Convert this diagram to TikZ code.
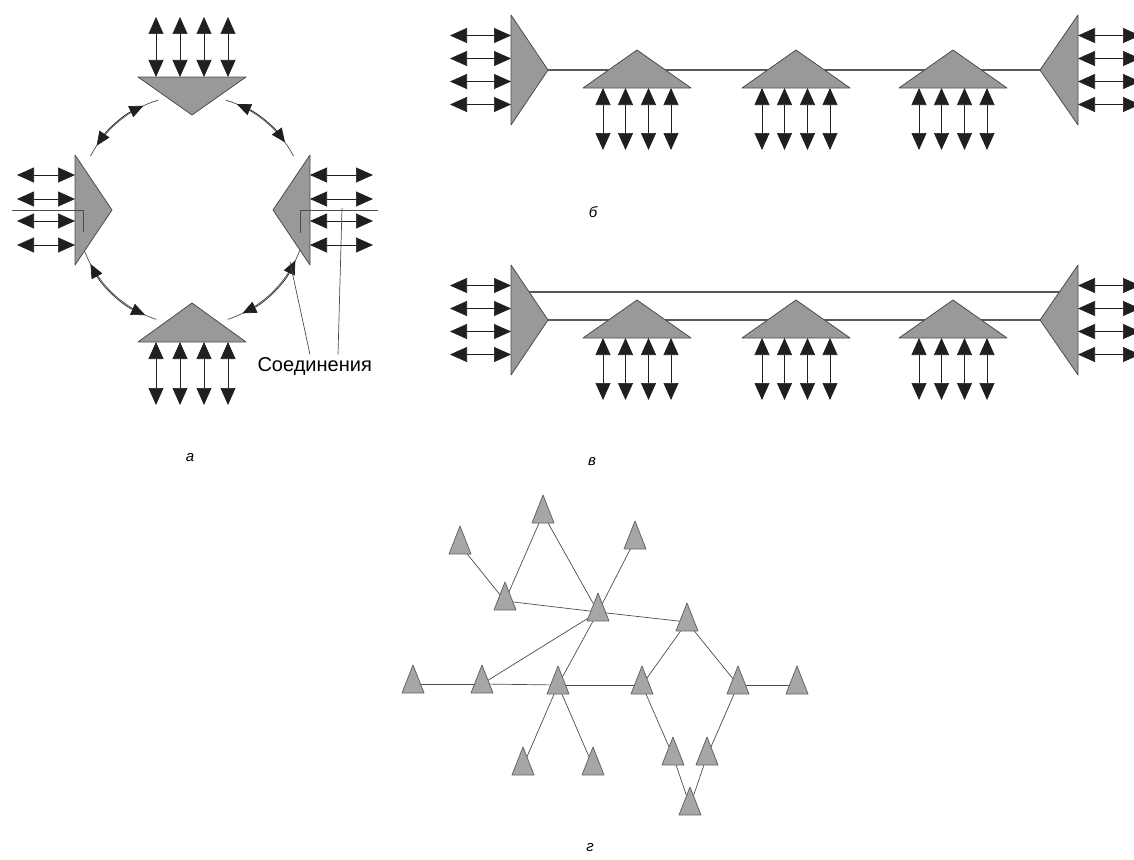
\documentclass[tikz,border=0pt]{standalone}
\usepackage{fontspec}
\setmainfont{Liberation Sans}
\usetikzlibrary{arrows.meta}

\tikzset{
  bigtri/.style={draw=black!70, fill=black!40, line width=0.8pt, line join=round},
  smalltri/.style={draw=black!60, fill=black!35, line width=0.8pt, line join=round},
  port/.style={{Triangle[length=17pt,width=15pt]}-{Triangle[length=17pt,width=15pt]}, line width=0.7pt, black!88},
  ringarrow/.style={{Triangle[length=14pt,width=12pt]}-{Triangle[length=14pt,width=12pt]}, line width=0.7pt, black!88},
  ring/.style={black!70, line width=0.7pt},
  bus/.style={black!65, line width=1.1pt},
  edge/.style={black!70, line width=0.7pt},
  caption/.style={font=\itshape\fontsize{15}{15}\selectfont},
}

\begin{document}
\begin{tikzpicture}[x=1pt,y=-1pt]
  \useasboundingbox (0,0) rectangle (1134,859);

  % ring
  \coordinate (c) at (192,210);
  \foreach \a/\b in {208/253, 287/332, 20/72, 108/160} {
    \draw[ring] (c) ++(\a:115) arc[start angle=\a, end angle=\b, radius=115];
    \draw[ringarrow] (c) ++(\a+6:115) arc[start angle=\a+6, end angle=\b-8, radius=115];
  }

  \coordinate (t1) at (138,77);
  \coordinate (t2) at (246,77);
  \coordinate (t3) at (192,115);
  \coordinate (b1) at (138,342);
  \coordinate (b2) at (246,342);
  \coordinate (b3) at (192,303);
  \coordinate (l1) at (75,155);
  \coordinate (l2) at (75,265);
  \coordinate (l3) at (112,210);
  \coordinate (r1) at (310,155);
  \coordinate (r2) at (310,265);
  \coordinate (r3) at (273,210);
  \filldraw[bigtri] (t1) -- (t2) -- (t3) -- cycle;
  \filldraw[bigtri] (b1) -- (b2) -- (b3) -- cycle;
  \filldraw[bigtri] (l1) -- (l2) -- (l3) -- cycle;
  \filldraw[bigtri] (r1) -- (r2) -- (r3) -- cycle;

  \foreach \d in {-36,-12,12,36} {
    \draw[port] (192+\d,17) -- (192+\d,77);
    \draw[port] (192+\d,342) -- (192+\d,405);
  }
  \foreach \d in {-35,-11,11,35} {
    \draw[port] (17,210+\d) -- (75,210+\d);
    \draw[port] (310,210+\d) -- (373,210+\d);
  }

  % connections
  \coordinate (cl) at (83,232);
  \coordinate (cr) at (300,233);
  \draw[ring] (12,210) -- (83,210) -- (cl);
  \draw[ring] (378,210) -- (300,210) -- (cr);
  \node[anchor=west, font=\fontsize{20}{20}\selectfont] (conn) at (254,367) {Соединения};
  \coordinate (p1) at (290,262);
  \coordinate (p2) at (342,208);
  \draw[ring] (conn.north -| 310,0) -- (p1);
  \draw[ring] (conn.north -| 338,0) -- (p2);

  % buses
  \coordinate (top1) at (511,292);
  \coordinate (top2) at (1078,292);
  \draw[bus] (top1) -- (top2);
  \foreach \y in {0,250} {
    \coordinate (bl\y) at (548,70+\y);
    \coordinate (br\y) at (1040,70+\y);
    \draw[bus] (bl\y) -- (br\y);
    \filldraw[bigtri] (511,15+\y) -- (bl\y) -- (511,125+\y) -- cycle;
    \filldraw[bigtri] (1078,15+\y) -- (br\y) -- (1078,125+\y) -- cycle;
    \foreach \x in {637,796,953} {
      \filldraw[bigtri] (\x-54,88+\y) -- (\x,50+\y) -- (\x+54,88+\y) -- cycle;
      \foreach \d in {-34,-11.5,11.5,34}
        \draw[port] (\x+\d,88+\y) -- (\x+\d,150+\y);
    }
    \foreach \d in {-34.5,-11.5,11.5,34.5} {
      \draw[port] (450,70+\y+\d) -- (511,70+\y+\d);
      \draw[port] (1078,70+\y+\d) -- (1140,70+\y+\d);
    }
  }

  % mesh
  \foreach \n/\x/\y in {1/543/514, 2/460/545, 3/635/540, 4/505/601, 5/598/612,
    6/687/622, 7/413/684, 8/482/684, 9/558/685, 10/642/685, 11/738/685,
    12/797/685, 13/523/766, 14/593/766, 15/673/756, 16/707/756, 17/690/806}
    \coordinate (g\n) at (\x,\y);
  \foreach \a/\b in {2/4, 1/4, 1/5, 3/5, 4/5, 5/6, 5/8, 5/9, 7/8, 8/9, 9/10,
    6/10, 6/11, 11/12, 9/13, 9/14, 10/15, 11/16, 15/17, 16/17}
    \draw[edge] (g\a) -- (g\b);
  \foreach \n in {1,...,17}
    \filldraw[smalltri] (g\n) ++(-11,9) -- ++(22,0) -- ++(-11,-28) -- cycle;

  \node[caption] (la) at (190,458) {а};
  \node[caption] (lb) at (593,212) {б};
  \node[caption] (lv) at (592,462) {в};
  \node[caption] (lg) at (590,848) {г};

\end{tikzpicture}
\end{document}
